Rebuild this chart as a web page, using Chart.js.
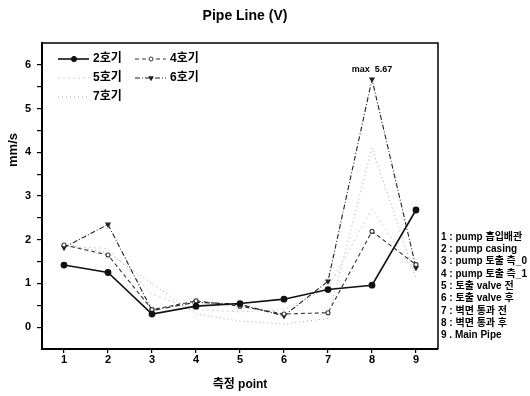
<!DOCTYPE html>
<html>
<head>
<meta charset="utf-8">
<script src="https://cdn.jsdelivr.net/npm/chart.js@4/dist/chart.umd.min.js"></script>
<style>
html, body { margin: 0; background: #fff; }
</style>
</head>
<body>
<canvas id="myChart" width="530" height="396"></canvas>
<script>
// measurement points on the x axis
var points = [1, 2, 3, 4, 5, 6, 7, 8, 9];

// velocity (mm/s) per unit
var ho2 = [1.42, 1.25, 0.30, 0.48, 0.54, 0.64, 0.86, 0.96, 2.68];
var ho4 = [1.88, 1.65, 0.40, 0.60, 0.48, 0.30, 0.33, 2.19, 1.43];
var ho5 = [1.85, 1.80, 0.75, 0.40, 0.35, 0.40, 0.90, 2.70, 1.20];
var ho6 = [1.82, 2.35, 0.38, 0.57, 0.52, 0.26, 1.05, 5.67, 1.36];
var ho7 = [1.90, 1.70, 1.00, 0.30, 0.14, 0.07, 0.20, 4.10, 1.10];

var seriesNames = ['2호기', '4호기', '5호기', '6호기', '7호기'];
var yTickLabels = [0, 1, 2, 3, 4, 5, 6];

// what each measurement point is
var pointNotes = [
	'1 : pump 흡입배관',
	'2 : pump casing',
	'3 : pump 토출 측_0',
	'4 : pump 토출 측_1',
	'5 : 토출 valve 전',
	'6 : 토출 valve 후',
	'7 : 벽면 통과 전',
	'8 : 벽면 통과 후',
	'9 . Main Pipe'
];

var maxNote = 'max  5.67';

// chart.js wants {x, y} pairs for a linear x axis
function toPoints(values) {
	var out = [];
	for (var i = 0; i < points.length; i++) {
		out.push({ x: points[i], y: values[i] });
	}
	return out;
}

var fontFamily = '"Liberation Sans", Arial, "Noto Sans CJK KR", sans-serif';
var koFamily = '"Liberation Sans", "Noto Sans CJK KR", sans-serif';

// draws the title, frame, legend box and side notes
var extras = {
	id: 'extras',
	afterDraw: function(chart) {
		var ctx = chart.ctx;
		var area = chart.chartArea;
		ctx.save();

		// frame on top and right
		ctx.strokeStyle = '#000';
		ctx.lineWidth = 1.5;
		ctx.beginPath();
		ctx.moveTo(area.left, area.top);
		ctx.lineTo(area.right, area.top);
		ctx.lineTo(area.right, area.bottom);
		ctx.stroke();

		ctx.fillStyle = '#000';

		// title
		ctx.font = 'bold 14px ' + fontFamily;
		ctx.textAlign = 'center';
		ctx.textBaseline = 'middle';
		ctx.fillText('Pipe Line (V)', 245, 16);

		// y axis title
		ctx.save();
		ctx.translate(13, 150);
		ctx.rotate(-Math.PI / 2);
		ctx.font = 'bold 13px ' + fontFamily;
		ctx.fillText('mm/s', 0, 0);
		ctx.restore();

		// x axis title
		ctx.font = 'bold 12px ' + koFamily;
		ctx.fillText('측정 point', 240, 385);

		// max note above the peak
		var xs = chart.scales.x, ys = chart.scales.y;
		ctx.font = 'bold 9px ' + fontFamily;
		ctx.fillText(maxNote, xs.getPixelForValue(8), ys.getPixelForValue(5.67) - 10);

		// notes on the right
		ctx.textAlign = 'left';
		ctx.font = 'bold 10px ' + koFamily;
		for (var i = 0; i < pointNotes.length; i++) {
			ctx.fillText(pointNotes[i], 441, 237 + i * 12.3);
		}

		// legend, two columns inside the plot
		var slots = [[58, 59], [135, 59], [58, 78], [135, 78], [58, 97]];
		var datasets = chart.data.datasets;
		for (var j = 0; j < datasets.length; j++) {
			var ds = datasets[j];
			var sx = slots[j][0], sy = slots[j][1];
			ctx.save();
			ctx.strokeStyle = ds.borderColor;
			ctx.lineWidth = ds.borderWidth;
			ctx.setLineDash(ds.borderDash || []);
			ctx.beginPath();
			ctx.moveTo(sx, sy);
			ctx.lineTo(sx + 31, sy);
			ctx.stroke();
			ctx.restore();
			if (ds.pointRadius > 0) {
				ctx.save();
				ctx.fillStyle = ds.pointBackgroundColor;
				ctx.strokeStyle = ds.borderColor;
				ctx.lineWidth = 1;
				Chart.helpers.drawPoint(ctx, {
					pointStyle: ds.pointStyle,
					rotation: ds.pointRotation || 0,
					radius: ds.pointRadius,
					borderWidth: 1
				}, sx + 16, sy);
				ctx.restore();
			}
			ctx.fillStyle = '#000';
			ctx.font = 'bold 12px ' + koFamily;
			ctx.textAlign = 'left';
			ctx.fillText(seriesNames[j], sx + 35, sy);
		}

		ctx.restore();
	}
};

var ctx = document.getElementById('myChart');

var myLineChart = new Chart(ctx, {
	type: 'line',
	data: {
		datasets: [{
			label: seriesNames[0],
			data: toPoints(ho2),
			borderColor: '#111',
			backgroundColor: '#111',
			pointBackgroundColor: '#111',
			borderWidth: 1.6,
			pointStyle: 'circle',
			pointRadius: 2.6
		}, {
			label: seriesNames[1],
			data: toPoints(ho4),
			borderColor: '#333',
			backgroundColor: '#fff',
			pointBackgroundColor: '#fff',
			borderWidth: 1.1,
			borderDash: [4, 3],
			pointStyle: 'circle',
			pointRadius: 2
		}, {
			label: seriesNames[2],
			data: toPoints(ho5),
			borderColor: '#cfcfcf',
			backgroundColor: '#cfcfcf',
			pointBackgroundColor: '#cfcfcf',
			borderWidth: 1,
			borderDash: [2, 3],
			pointRadius: 0
		}, {
			label: seriesNames[3],
			data: toPoints(ho6),
			borderColor: '#222',
			backgroundColor: '#222',
			pointBackgroundColor: '#222',
			borderWidth: 1.1,
			borderDash: [5, 2, 1, 2],
			pointStyle: 'triangle',
			pointRotation: 180,
			pointRadius: 2.5
		}, {
			label: seriesNames[4],
			data: toPoints(ho7),
			borderColor: '#a8a8a8',
			backgroundColor: '#a8a8a8',
			pointBackgroundColor: '#a8a8a8',
			borderWidth: 1,
			borderDash: [1, 3],
			pointRadius: 0
		}]
	},
	options: {
		responsive: false,
		animation: false,
		layout: { padding: { left: 0, top: 43, right: 92, bottom: 0 } },
		plugins: {
			legend: { display: false },
			title: { display: false },
			tooltip: { enabled: false }
		},
		scales: {
			x: {
				type: 'linear',
				min: 0.5,
				max: 9.5,
				afterFit: function(scale) { scale.height = 47; },
				afterBuildTicks: function(scale) {
					scale.ticks = points.map(function(p) { return { value: p }; });
				},
				border: { display: true, color: '#000', width: 2 },
				grid: { drawOnChartArea: false, color: '#000', tickLength: 4, lineWidth: 1.2 },
				ticks: {
					color: '#000',
					padding: 0,
					font: { family: fontFamily, size: 11, weight: 'bold' },
					callback: function(v) { return String(v); }
				}
			},
			y: {
				min: -0.5,
				max: 6.5,
				afterFit: function(scale) { scale.width = 42; },
				afterBuildTicks: function(scale) {
					// majors from the labels, minors halfway between
					var ticks = [];
					for (var i = 0; i < yTickLabels.length; i++) {
						ticks.push({ value: yTickLabels[i] });
						if (i < yTickLabels.length - 1) ticks.push({ value: yTickLabels[i] + 0.5 });
					}
					scale.ticks = ticks;
				},
				border: { display: true, color: '#000', width: 2 },
				grid: { drawOnChartArea: false, color: '#000', tickLength: 5, lineWidth: 1.2 },
				ticks: {
					color: '#000',
					padding: 6,
					font: { family: fontFamily, size: 11, weight: 'bold' },
					callback: function(v) { return Number.isInteger(v) ? String(v) : ''; }
				}
			}
		}
	},
	plugins: [extras]
});
</script>
</body>
</html>
